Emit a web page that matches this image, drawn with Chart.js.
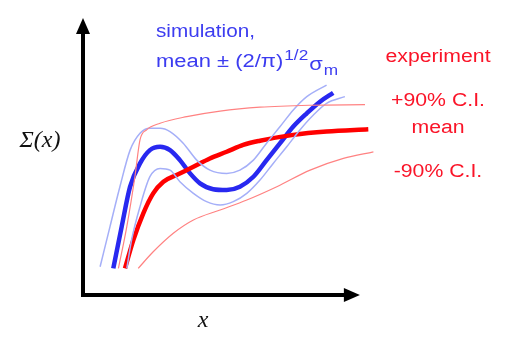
<!DOCTYPE html>
<html lang="en">
<head>
    <meta charset="UTF-8">
    <title>Sigma(x): simulation vs experiment</title>
    <script src="https://cdn.jsdelivr.net/npm/chart.js"></script>
    <style>
        body {
            margin: 0;
            padding: 0;
            background: #fff;
        }
        canvas {
            display: block;
        }
    </style>
</head>
<body>
    <canvas id="sigmaChart" width="517" height="342"></canvas>
    <script>
        // simulation mean and +/- band (schematic units, 0..10 on both axes)
        const simMeanX = [1.01, 1.29, 1.57, 1.9, 2.23, 2.57, 2.9, 3.23, 3.57, 3.9, 4.34, 4.79, 5.23, 5.68, 6.12, 6.57, 7.01, 7.46, 7.9, 8.34];
        const simMeanY = [0.96, 2.47, 3.91, 4.75, 5.23, 5.35, 5.23, 4.87, 4.39, 4.03, 3.82, 3.79, 3.91, 4.27, 4.87, 5.48, 6.08, 6.56, 6.98, 7.3];
        const simUpperX = [0.57, 0.9, 1.23, 1.57, 1.9, 2.23, 2.57, 2.9, 3.34, 3.79, 4.23, 4.79, 5.23, 5.68, 6.12, 6.57, 7.01, 7.46, 8.12];
        const simUpperY = [1.02, 2.47, 3.91, 5.23, 5.84, 6.02, 6.02, 5.9, 5.48, 4.87, 4.51, 4.39, 4.51, 4.87, 5.48, 6.08, 6.68, 7.16, 7.58];
        const simLowerX = [1.46, 1.62, 1.9, 2.23, 2.57, 2.9, 3.23, 3.68, 4.12, 4.57, 5.01, 5.46, 5.9, 6.34, 6.79, 7.23, 7.68, 8.12, 8.73];
        const simLowerY = [0.96, 1.99, 3.19, 4.27, 4.57, 4.51, 4.09, 3.67, 3.37, 3.25, 3.37, 3.67, 4.15, 4.75, 5.35, 5.96, 6.5, 6.92, 7.16];

        // experiment mean and 90% confidence interval
        const expMeanX = [1.4, 1.68, 2.01, 2.34, 2.68, 3.12, 3.68, 4.23, 4.79, 5.34, 5.9, 7.01, 8.12, 9.51];
        const expMeanY = [0.96, 1.99, 2.95, 3.67, 4.09, 4.33, 4.63, 4.93, 5.17, 5.42, 5.57, 5.78, 5.9, 5.98];
        const expUpperX = [1.18, 1.46, 1.73, 1.9, 2.12, 2.57, 3.46, 4.57, 5.9, 7.57, 9.4];
        const expUpperY = [0.96, 2.47, 4.27, 5.6, 5.96, 6.2, 6.44, 6.64, 6.78, 6.85, 6.87];
        const expLowerX = [1.84, 2.34, 3.01, 3.68, 4.57, 5.46, 6.46, 7.57, 8.68, 9.68];
        const expLowerY = [0.96, 1.56, 2.23, 2.71, 3.07, 3.43, 3.91, 4.51, 4.93, 5.17];

        const expLabels = ['experiment', '+90% C.I.', 'mean', '-90% C.I.'];
        const simLabel1 = 'simulation,';
        const yLabel = 'Σ(x)';
        const xLabel = 'x';
        const xArrowEnd = 9.23;

        const BLUE = 'rgb(40, 40, 240)';
        const LIGHT_BLUE = 'rgb(165, 175, 248)';
        const RED = 'rgb(255, 0, 0)';
        const LIGHT_RED = 'rgb(255, 130, 130)';

        function toPoints(xs, ys) {
            return xs.map((x, i) => ({ x: x, y: ys[i] }));
        }

        function line(xs, ys, color, width) {
            return {
                data: toPoints(xs, ys),
                borderColor: color,
                borderWidth: width,
                fill: false,
                pointRadius: 0,
                cubicInterpolationMode: 'monotone'
            };
        }

        // stretched text helper (the source text is a bit wider than Arial)
        function wideText(ctx, text, x, y, align, stretch) {
            stretch = stretch || 1.15;
            const w = ctx.measureText(text).width * stretch;
            let left = x;
            if (align === 'center') left = x - w / 2;
            ctx.save();
            ctx.translate(left, y);
            ctx.scale(stretch, 1);
            ctx.textAlign = 'left';
            ctx.fillText(text, 0, 0);
            ctx.restore();
            return w;
        }

        const axesPlugin = {
            id: 'axesAndText',
            beforeDatasetsDraw(chart) {
                const ctx = chart.ctx;
                const xs = chart.scales.x, ys = chart.scales.y;
                const x0 = xs.getPixelForValue(0);
                const y0 = ys.getPixelForValue(0);
                const yTop = ys.getPixelForValue(10);
                const xEnd = xs.getPixelForValue(xArrowEnd);
                ctx.save();
                ctx.strokeStyle = '#000';
                ctx.fillStyle = '#000';
                ctx.lineWidth = 4;
                ctx.beginPath();
                ctx.moveTo(x0, y0 + 2);
                ctx.lineTo(x0, yTop + 12);
                ctx.moveTo(x0 - 2, y0);
                ctx.lineTo(xEnd - 12, y0);
                ctx.stroke();
                // arrow heads
                ctx.beginPath();
                ctx.moveTo(x0, yTop);
                ctx.lineTo(x0 - 7, yTop + 16);
                ctx.lineTo(x0 + 7, yTop + 16);
                ctx.closePath();
                ctx.fill();
                ctx.beginPath();
                ctx.moveTo(xEnd, y0);
                ctx.lineTo(xEnd - 16, y0 - 7);
                ctx.lineTo(xEnd - 16, y0 + 7);
                ctx.closePath();
                ctx.fill();
                ctx.restore();
            },
            afterDraw(chart) {
                const ctx = chart.ctx;
                ctx.save();
                ctx.textBaseline = 'alphabetic';

                // axis labels
                ctx.fillStyle = '#111';
                ctx.font = 'italic 24px "Liberation Serif", "DejaVu Serif", serif';
                ctx.textAlign = 'center';
                ctx.fillText(yLabel, 40, 147);
                ctx.fillText(xLabel, 203, 327);

                // experiment legend
                ctx.fillStyle = 'rgb(250, 20, 40)';
                ctx.font = '18px "Liberation Sans", Arial, sans-serif';
                const baselines = [62, 106, 133, 177];
                expLabels.forEach((t, i) => wideText(ctx, t, 438, baselines[i], 'center', 1.18));

                // simulation legend
                ctx.fillStyle = 'rgb(60, 60, 240)';
                ctx.font = '18px "Liberation Sans", Arial, sans-serif';
                wideText(ctx, simLabel1, 156, 37, 'left');
                let x = 156;
                x += wideText(ctx, 'mean ± (2/π)', x, 67, 'left', 1.22);
                ctx.font = '15px "Liberation Sans", Arial, sans-serif';
                x += wideText(ctx, '1/2', x + 1, 60, 'left') + 2;
                ctx.font = '19px "Liberation Sans", Arial, sans-serif';
                x += wideText(ctx, 'σ', x, 70, 'left') + 1;
                ctx.font = '15px "Liberation Sans", Arial, sans-serif';
                wideText(ctx, 'm', x, 75, 'left');
                ctx.restore();
            }
        };

        new Chart(document.getElementById('sigmaChart').getContext('2d'), {
            type: 'line',
            data: {
                datasets: [
                    line(expUpperX, expUpperY, LIGHT_RED, 1.2),
                    line(expLowerX, expLowerY, LIGHT_RED, 1.2),
                    line(simUpperX, simUpperY, LIGHT_BLUE, 1.5),
                    line(simLowerX, simLowerY, LIGHT_BLUE, 1.5),
                    line(expMeanX, expMeanY, RED, 4.5),
                    line(simMeanX, simMeanY, BLUE, 4.5)
                ]
            },
            options: {
                responsive: false,
                animation: false,
                layout: {
                    padding: { left: 83, right: 134, top: 18, bottom: 47 }
                },
                scales: {
                    x: { type: 'linear', min: 0, max: 10, display: false },
                    y: { type: 'linear', min: 0, max: 10, display: false }
                },
                plugins: {
                    legend: { display: false },
                    tooltip: { enabled: false }
                }
            },
            plugins: [axesPlugin]
        });
    </script>
</body>
</html>
